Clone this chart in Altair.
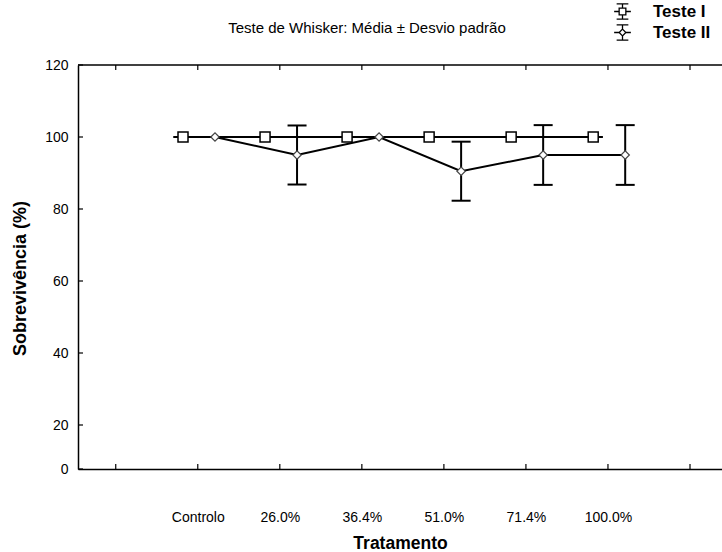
import altair as alt
import pandas as pd

# Treatments along the x axis and their positions
categorias = ["Controlo", "26.0%", "36.4%", "51.0%", "71.4%", "100.0%"]
posicao = [1, 2, 3, 4, 5, 6]

# Survival (%) mean and standard deviation for each test
media_teste1 = [100, 100, 100, 100, 100, 100]
desvio_teste1 = [0, 0, 0, 0, 0, 0]
media_teste2 = [100, 95, 100, 90.5, 95, 95]
desvio_teste2 = [0, 8.2, 0, 8.2, 8.3, 8.3]

series = ["Teste I", "Teste II"]
deslocamento = [-0.18, 0.21]  # small horizontal dodge of each series

marcas_x = [0, 1, 2, 3, 4, 5, 6, 7]
marcas_y = [0, 20, 40, 60, 80, 100, 120]

W, H = 644, 404
FONT = "Liberation Sans"

linhas = []
for serie, desl, medias, desvios in [
    (series[0], deslocamento[0], media_teste1, desvio_teste1),
    (series[1], deslocamento[1], media_teste2, desvio_teste2),
]:
    for cat, pos, m, d in zip(categorias, posicao, medias, desvios):
        linhas.append({"serie": serie, "cat": cat, "pos": pos, "x": pos + desl,
                       "media": m, "lo": m - d, "hi": m + d})
df = pd.DataFrame(linhas)

xs = alt.Scale(domain=[-0.46, 7.39], nice=False, zero=False)
ys = alt.Scale(domain=[0, 20, 120], range=[H, H - 44, 0], nice=False, zero=False)

label_expr = "[" + ",".join(["''"] + [f"'{c}'" for c in categorias]) + "][datum.value]"

eixo_x = alt.Axis(values=posicao, labelExpr=label_expr, tickSize=0, grid=False,
                  domainColor="black", domainWidth=1.5, labelPadding=41,
                  labelFont=FONT, labelFontSize=14, labelColor="black",
                  title="Tratamento", titleFont=FONT, titleFontSize=17.5,
                  titleFontWeight="bold", titleColor="black",
                  titleY=74, titleBaseline="middle")
eixo_y = alt.Axis(values=marcas_y, tickSize=0, grid=False,
                  domainColor="black", domainWidth=1.5, labelPadding=10,
                  labelFont=FONT, labelFontSize=14, labelColor="black",
                  title="Sobrevivência (%)", titleFont=FONT, titleFontSize=18,
                  titleFontWeight="bold", titleColor="black",
                  titleX=-58, titleY=213, titleAngle=270,
                  titleBaseline="middle", titleAlign="center")


def ex(campo):
    return alt.X(campo, scale=xs, axis=eixo_x)


def ey(campo):
    return alt.Y(campo, scale=ys, axis=eixo_y)


base = alt.Chart(df)

linha = base.mark_line(color="black", strokeWidth=2).encode(
    x=ex("x:Q"), y=ey("media:Q"), detail="serie:N", order="pos:Q",
)

barra = base.mark_rule(color="black", strokeWidth=2).encode(
    x=ex("x:Q"), y=ey("lo:Q"), y2="hi:Q",
)

cap_lo = base.mark_tick(orient="horizontal", size=19, thickness=2, color="black", opacity=1).encode(
    x=ex("x:Q"), y=ey("lo:Q"),
)
cap_hi = base.mark_tick(orient="horizontal", size=19, thickness=2, color="black", opacity=1).encode(
    x=ex("x:Q"), y=ey("hi:Q"),
)

quadrados = base.transform_filter(alt.datum.serie == series[0]).mark_point(
    shape="square", size=100, filled=True, fill="white", stroke="black",
    strokeWidth=1.5, opacity=1,
).encode(x=ex("x:Q"), y=ey("media:Q"))

losangos = base.transform_filter(alt.datum.serie == series[1]).mark_point(
    shape="diamond", size=70, filled=True, fill="white", stroke="#444444",
    strokeWidth=1.2, opacity=1,
).encode(x=ex("x:Q"), y=ey("media:Q"))

# legend glyphs: marker with whisker caps
simbolo1 = ("M-1,0H-0.4M0.4,0H1M-0.4,-0.4H0.4V0.4H-0.4Z"
            "M-0.7,-0.9H0.7M-0.7,0.9H0.7M0,-0.9V-0.4M0,0.4V0.9")
simbolo2 = ("M-1,0H-0.4M0.4,0H1M0,-0.4L0.4,0L0,0.4L-0.4,0Z"
            "M-0.7,-0.9H0.7M-0.7,0.9H0.7M0,-0.9V-0.4M0,0.4V0.9")

legenda = base.transform_filter("false").mark_point(
    filled=False, color="black", strokeWidth=1.3, opacity=1,
).encode(
    x=ex("x:Q"), y=ey("media:Q"),
    shape=alt.Shape("serie:N", scale=alt.Scale(domain=series, range=[simbolo1, simbolo2]),
                    legend=alt.Legend(title=None, orient="none", legendX=535, legendY=-63,
                                      padding=0, labelFont=FONT, labelFontSize=17,
                                      labelFontWeight="bold", labelColor="black",
                                      symbolSize=280, symbolStrokeWidth=1.3,
                                      symbolStrokeColor="black",
                                      labelOffset=21, rowPadding=0,
                                      labelLimit=200)),
)

tdf = pd.DataFrame({"t": marcas_x})
ydf = pd.DataFrame({"t": marcas_y})

ticks_baixo = alt.Chart(tdf).mark_rule(color="black", strokeWidth=1.2).encode(
    x=ex("t:Q"), y=alt.value(H), y2=alt.value(H - 5))
ticks_topo = alt.Chart(tdf).mark_rule(color="black", strokeWidth=1.2).encode(
    x=ex("t:Q"), y=alt.value(0), y2=alt.value(5))
ticks_esq = alt.Chart(ydf).mark_rule(color="black", strokeWidth=1.2).encode(
    y=ey("t:Q"), x=alt.value(0), x2=alt.value(5))
borda_topo = alt.Chart(pd.DataFrame({"a": [0]})).mark_rule(color="black", strokeWidth=1.5).encode(
    x=alt.value(0), x2=alt.value(W), y=alt.value(0))

chart = alt.layer(
    linha, barra, cap_lo, cap_hi, quadrados, losangos, legenda,
    ticks_baixo, ticks_topo, ticks_esq, borda_topo,
).properties(
    width=W, height=H,
    background="white",
    autosize=alt.AutoSizeParams(type="none"),
    padding={"left": 78, "top": 65, "right": 0, "bottom": 83},
    title=alt.TitleParams(text="Teste de Whisker: Média ± Desvio padrão", font=FONT,
                          fontSize=15, fontWeight="normal", color="black",
                          anchor="middle", frame="group", dx=-33, dy=46, offset=0,
                          baseline="alphabetic"),
).configure_view(stroke=None).configure_legend(rowPadding=0)

chart.save("out.html", embed_options={"renderer": "svg", "actions": False})
